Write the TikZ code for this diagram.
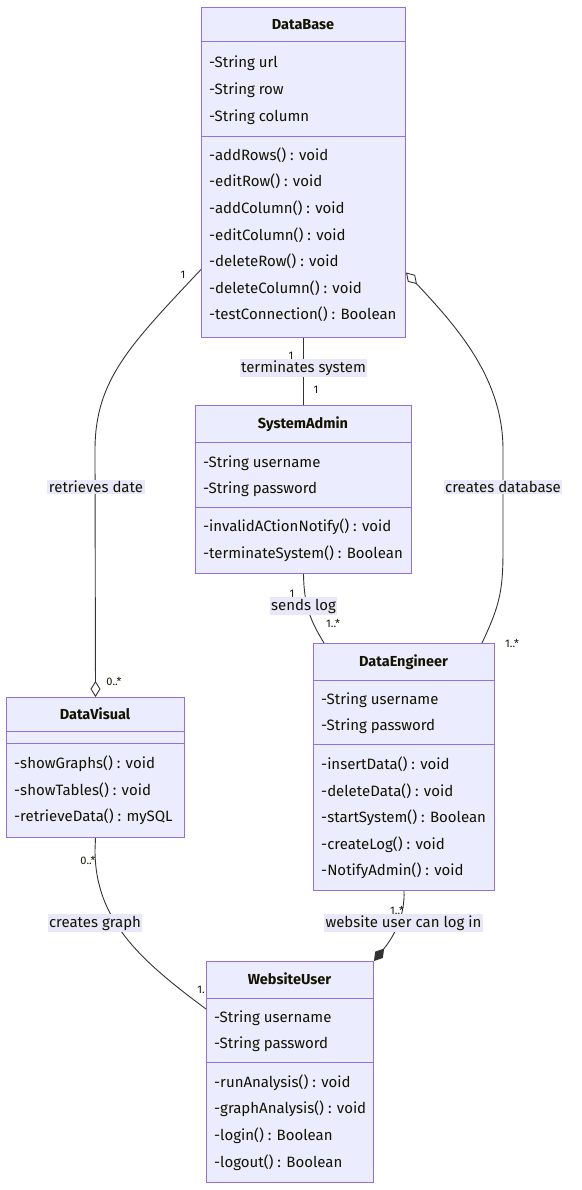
\documentclass[tikz,border=0pt]{standalone}
\usepackage{fontspec}
\setmainfont{Fira Sans}
\usetikzlibrary{arrows.meta}
\definecolor{cfill}{HTML}{ECECFF}
\definecolor{cborder}{HTML}{9370DB}
\definecolor{cline}{HTML}{333333}
\definecolor{ctext}{HTML}{131300}
\definecolor{clbl}{HTML}{E8E8FA}
\begin{document}
\begin{tikzpicture}[x=1pt,y=-1pt,
  box/.style={draw=cborder, fill=cfill, line width=1pt, inner sep=0pt, anchor=north west},
  divider/.style={draw=cborder, line width=1pt},
  ttl/.style={font=\bfseries\fontsize{14.5}{16}\selectfont, text=ctext, inner sep=0pt, anchor=base, yshift=-1.5pt},
  mem/.style={font=\fontsize{15}{17}\selectfont, text=ctext, inner sep=0pt, anchor=base west, yshift=-1.5pt},
  rel/.style={draw=cline, line width=0.9pt},
  lbl/.style={fill=clbl, font=\fontsize{15}{17}\selectfont, text=ctext, inner sep=1.5pt},
  mult/.style={font=\fontsize{11}{12}\selectfont, text=ctext, inner sep=0pt},
  agg/.style={-{Diamond[open, fill=white, length=16pt, width=10pt]}},
  comp/.style={-{Diamond[fill=cline, length=16pt, width=10pt]}}
]
\useasboundingbox (0,0) rectangle (581,1190);

% ---------- DataBase
\node[box, minimum width=204pt, minimum height=330pt] (db) at (201,7) {};
\draw[divider] (201,42) -- (405,42);
\draw[divider] (201,137) -- (405,137);
\node[ttl] (dbt) at (303,28) {DataBase};
\node[mem] (dba1) at (209,66) {-String url};
\node[mem] (dba2) at (209,93) {-String row};
\node[mem] (dba3) at (209,120) {-String column};
\node[mem] (dbm1) at (209,159) {-addRows() : void};
\node[mem] (dbm2) at (209,185) {-editRow() : void};
\node[mem] (dbm3) at (209,212) {-addColumn() : void};
\node[mem] (dbm4) at (209,239) {-editColumn() : void};
\node[mem] (dbm5) at (209,265) {-deleteRow() : void};
\node[mem] (dbm6) at (209,292) {-deleteColumn() : void};
\node[mem] (dbm7) at (209,318) {-testConnection() : Boolean};

% ---------- SystemAdmin
\node[box, minimum width=216pt, minimum height=168pt] (sa) at (195,405) {};
\draw[divider] (195,442) -- (411,442);
\draw[divider] (195,507) -- (411,507);
\node[ttl] (sat) at (303,427) {SystemAdmin};
\node[mem] (saa1) at (203,466) {-String username};
\node[mem] (saa2) at (203,492) {-String password};
\node[mem] (sam1) at (203,530) {-invalidACtionNotify() : void};
\node[mem] (sam2) at (203,557) {-terminateSystem() : Boolean};

% ---------- DataEngineer
\node[box, minimum width=181pt, minimum height=247pt] (de) at (313,643) {};
\draw[divider] (313,680) -- (494,680);
\draw[divider] (313,744) -- (494,744);
\node[ttl] (det) at (403.5,665) {DataEngineer};
\node[mem] (dea1) at (321,703) {-String username};
\node[mem] (dea2) at (321,729) {-String password};
\node[mem] (dem1) at (321,768) {-insertData() : void};
\node[mem] (dem2) at (321,795) {-deleteData() : void};
\node[mem] (dem3) at (321,821) {-startSystem() : Boolean};
\node[mem] (dem4) at (321,848) {-createLog() : void};
\node[mem] (dem5) at (321,874) {-NotifyAdmin() : void};

% ---------- DataVisual
\node[box, minimum width=178pt, minimum height=140pt] (dv) at (6,697) {};
\draw[divider] (6,731) -- (184,731);
\draw[divider] (6,743) -- (184,743);
\node[ttl] (dvt) at (95,718) {DataVisual};
\node[mem] (dvm1) at (14,767) {-showGraphs() : void};
\node[mem] (dvm2) at (14,794) {-showTables() : void};
\node[mem] (dvm3) at (14,820) {-retrieveData() : mySQL};

% ---------- WebsiteUser
\node[box, minimum width=167pt, minimum height=221pt] (wu) at (206,961) {};
\draw[divider] (206,998) -- (373,998);
\draw[divider] (206,1062) -- (373,1062);
\node[ttl] (wut) at (289.5,983) {WebsiteUser};
\node[mem] (wua1) at (214,1021) {-String username};
\node[mem] (wua2) at (214,1047) {-String password};
\node[mem] (wum1) at (214,1086) {-runAnalysis() : void};
\node[mem] (wum2) at (214,1112) {-graphAnalysis() : void};
\node[mem] (wum3) at (214,1139) {-login() : Boolean};
\node[mem] (wum4) at (214,1166) {-logout() : Boolean};

% ---------- relations
\draw[rel] (db.south) -- (sa.north);
\draw[rel, agg] ([yshift=-97pt]db.west) .. controls (130,345) and (95,380) .. (95,450) -- (dv.north);
\draw[rel, agg] ([xshift=78pt]de.north) .. controls (500,605) and (503,590) .. (503,550) -- (503,450) .. controls (503,380) and (460,330) .. ([yshift=-100pt]db.east);
\draw[rel] (sa.south) .. controls (304,605) and (310,620) .. ([xshift=11pt]de.north west);
\draw[rel] (dv.south) -- (95,850) .. controls (95,920) and (140,960) .. ([yshift=-48pt]wu.north west);
\draw[rel, comp] (de.south) .. controls (405,915) and (395,935) .. (wu.north east);

% ---------- labels
\node[lbl] (l1) at (303.5,368) {terminates system};
\node[lbl] (l2) at (96,487) {retrieves date};
\node[lbl] (l3) at (503,487) {creates database};
\node[lbl] (l4) at (303.5,606) {sends log};
\node[lbl] (l5) at (95,923) {creates graph};
\node[lbl] (l6) at (403.5,923) {website user can log in};

% ---------- multiplicities
\node[mult] (m1) at (291,356) {1};
\node[mult] (m2) at (316,390) {1};
\node[mult] (m3) at (183,275) {1};
\node[mult] (m4) at (114,681) {0..*};
\node[mult] (m5) at (512,643) {1..*};
\node[mult] (m6) at (292,594) {1};
\node[mult] (m7) at (333,623) {1..*};
\node[mult] (m8) at (88,860) {0..*};
\node[mult] (m9) at (201,990) {1.};
\node[mult] (m10) at (397,910) {1..*};
\end{tikzpicture}
\end{document}
